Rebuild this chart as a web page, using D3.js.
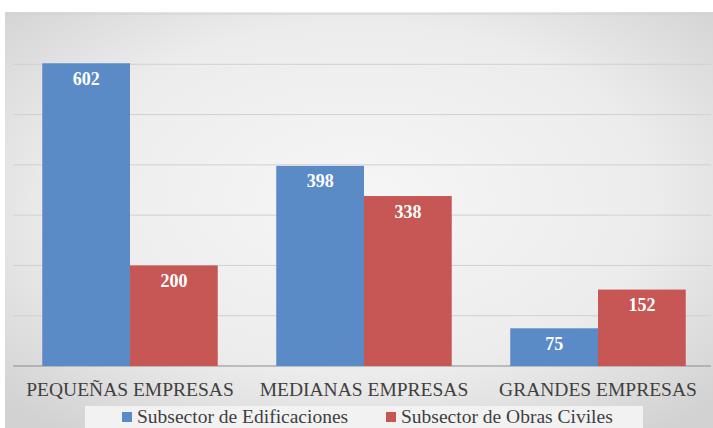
<!DOCTYPE html>
<html>
<head>
<meta charset="utf-8">
<script src="https://cdn.jsdelivr.net/npm/d3@7"></script>
<style>
  body { margin: 0; background: #fff; }
  #wrap { position: relative; width: 713px; height: 428px; overflow: hidden; }
  svg { display: block; position: absolute; left: 0; top: 0; }
  .lbl {
    position: absolute;
    font-family: "Liberation Serif", "Times New Roman", serif;
    line-height: 20px;
    height: 20px;
    white-space: nowrap;
    transform: translateX(-50%);
  }
  .lbl.left { transform: none; }
</style>
</head>
<body>
<div id="wrap">
  <svg id="chart" width="713" height="428"></svg>
</div>
<script>
// data
const categories = ["PEQUEÑAS EMPRESAS", "MEDIANAS EMPRESAS", "GRANDES EMPRESAS"];
const series = ["Subsector de Edificaciones", "Subsector de Obras Civiles"];
const edificaciones = [602, 398, 75];
const obrasCiviles = [200, 338, 152];
const gridTicks = [0, 100, 200, 300, 400, 500, 600, 700];

const colors = ["#5b8bc7", "#c65755"];

const wrap = d3.select("#wrap");
const svg = d3.select("#chart");
const width = +svg.attr("width"),
  height = +svg.attr("height");

// background gradient
const defs = svg.append("defs");
const grad = defs.append("radialGradient")
  .attr("id", "bg")
  .attr("cx", "50%").attr("cy", "45%").attr("r", "70%");
grad.append("stop").attr("offset", "0%").attr("stop-color", "#f6f6f6");
grad.append("stop").attr("offset", "60%").attr("stop-color", "#ececec");
grad.append("stop").attr("offset", "100%").attr("stop-color", "#d2d2d2");

svg.append("rect")
  .attr("x", 5).attr("y", 12)
  .attr("width", width - 5).attr("height", height - 12)
  .attr("fill", "url(#bg)");

// scales
const x0 = d3.scaleBand()
  .domain(categories)
  .range([13, 715])
  .paddingInner(0.25)
  .paddingOuter(0.125);

const x1 = d3.scaleBand()
  .domain(series)
  .range([0, x0.bandwidth()]);

const y = d3.scaleLinear()
  .domain([0, 700])
  .range([366, 14]);

// gridlines
svg.append("g")
  .selectAll("line")
  .data(gridTicks)
  .join("line")
  .attr("x1", 13)
  .attr("x2", 711)
  .attr("y1", d => y(d))
  .attr("y2", d => y(d))
  .attr("stroke", d => d === 0 ? "#8c8c8c" : "#d0d0d0")
  .attr("stroke-width", 1);

// bars
const rows = categories.map((c, i) => ({
  cat: c,
  vals: [
    { s: series[0], v: edificaciones[i], c: colors[0] },
    { s: series[1], v: obrasCiviles[i], c: colors[1] }
  ]
}));
const flat = rows.flatMap(r => r.vals.map(v => ({ ...v, cat: r.cat })));

svg.append("g")
  .selectAll("rect")
  .data(flat)
  .join("rect")
  .attr("x", d => x0(d.cat) + x1(d.s))
  .attr("y", d => y(d.v))
  .attr("width", x1.bandwidth())
  .attr("height", d => y(0) - y(d.v))
  .attr("fill", d => d.c);

// legend box + swatches
svg.append("rect")
  .attr("x", 85).attr("y", 406)
  .attr("width", 558).attr("height", 22)
  .attr("fill", "#f2f2f2");

const legendX = [122, 386];
svg.append("g")
  .selectAll("rect")
  .data(series)
  .join("rect")
  .attr("x", (d, i) => legendX[i])
  .attr("y", 412)
  .attr("width", 10).attr("height", 10)
  .attr("fill", (d, i) => colors[i]);

// value labels (html text so the serif font is used)
wrap.selectAll("div.val")
  .data(flat)
  .join("div")
  .attr("class", "lbl val")
  .style("left", d => (x0(d.cat) + x1(d.s) + x1.bandwidth() / 2) + "px")
  .style("top", d => (y(d.v) + 5.5) + "px")
  .style("font-size", "18px")
  .style("font-weight", "bold")
  .style("color", "#fff")
  .text(d => d.v);

// category labels
wrap.selectAll("div.cat")
  .data(categories)
  .join("div")
  .attr("class", "lbl cat")
  .style("left", d => (x0(d) + x0.bandwidth() / 2) + "px")
  .style("top", "380px")
  .style("font-size", "19.5px")
  .style("color", "#404040")
  .text(d => d);

// legend text
wrap.selectAll("div.leg")
  .data(series)
  .join("div")
  .attr("class", "lbl left leg")
  .style("left", (d, i) => (legendX[i] + 15) + "px")
  .style("top", "407px")
  .style("font-size", "19.5px")
  .style("color", "#404040")
  .text(d => d);
</script>
</body>
</html>
